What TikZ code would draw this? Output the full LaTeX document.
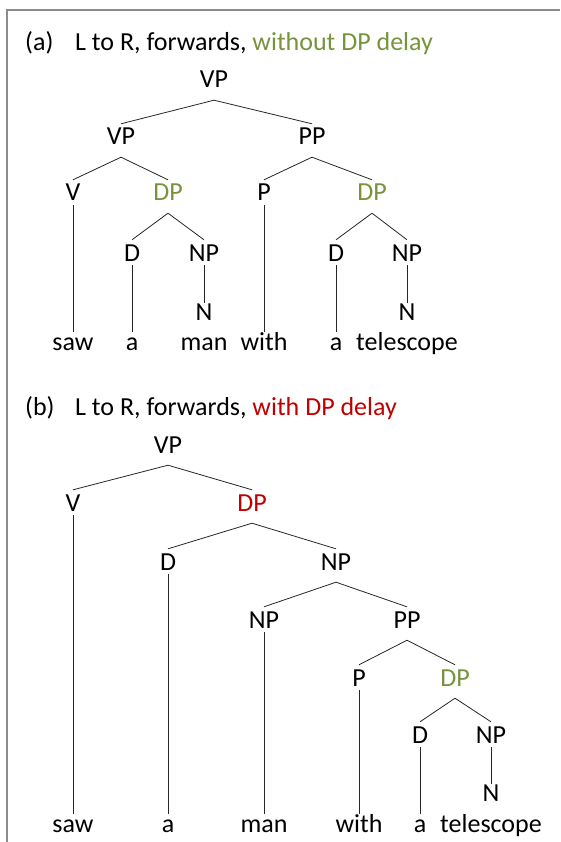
\documentclass[tikz,border=0pt]{standalone}
\usepackage{fontspec}
\setmainfont{Carlito}
\usetikzlibrary{positioning}
\definecolor{dpgreen}{HTML}{77933C}
\definecolor{dpred}{HTML}{C00000}
\definecolor{framegray}{HTML}{8C8C8C}

\begin{document}
\begin{tikzpicture}[x=1pt, y=-1pt,
    font=\fontsize{26}{30}\selectfont,
    cat/.style={anchor=base, inner sep=0pt, text height=17pt, text depth=0pt},
    word/.style={anchor=base, inner sep=0pt, text height=18pt, text depth=0pt},
    title/.style={anchor=base west, inner sep=0pt},
    branch/.style={black!85, line width=0.8pt}]
    \useasboundingbox (0,0) rectangle (560,842);

    % Frame
    \draw[framegray, line width=1.5pt] (7,842) -- (7,10) -- (560,10);

    % (a) without DP delay
    \node[title] (labA) at (25,51) {(a)};
    \node[title] (titA) at (75,51) {L to R, forwards, \textcolor{dpgreen}{without DP delay}};
    \node[cat] (vpA) at (214,88) {VP};
    \node[cat] (vpA1) at (121,145) {VP};
    \node[cat] (ppA) at (312,145) {PP};
    \node[cat] (vA) at (73,201) {V};
    \node[cat, dpgreen] (dpA1) at (168,201) {DP};
    \node[cat] (pA) at (264,201) {P};
    \node[cat, dpgreen] (dpA2) at (372,201) {DP};
    \node[cat] (dA1) at (132,261) {D};
    \node[cat] (npA1) at (204,261) {NP};
    \node[cat] (dA2) at (336,261) {D};
    \node[cat] (npA2) at (407,261) {NP};
    \node[cat] (nA1) at (204,320) {N};
    \node[cat] (nA2) at (407,320) {N};
    \node[word] (sawA) at (73,350) {saw};
    \node[word] (aA1) at (132,350) {a};
    \node[word] (manA) at (204,350) {man};
    \node[word] (withA) at (264,350) {with};
    \node[word] (aA2) at (336,350) {a};
    \node[word] (telA) at (407,350) {telescope};

    % (b) with DP delay
    \node[title] (labB) at (25,415) {(b)};
    \node[title] (titB) at (75,415) {L to R, forwards, \textcolor{dpred}{with DP delay}};
    \node[cat] (vpB) at (168,453) {VP};
    \node[cat] (vB) at (73,511) {V};
    \node[cat, dpred] (dpB1) at (252,511) {DP};
    \node[cat] (dB1) at (168,570) {D};
    \node[cat] (npB1) at (336,570) {NP};
    \node[cat] (npB2) at (264,628) {NP};
    \node[cat] (ppB) at (407,628) {PP};
    \node[cat] (pB) at (359,686) {P};
    \node[cat, dpgreen] (dpB2) at (455,686) {DP};
    \node[cat] (dB2) at (420,743) {D};
    \node[cat] (npB3) at (491,743) {NP};
    \node[cat] (nB) at (491,801) {N};
    \node[word] (sawB) at (73,832) {saw};
    \node[word] (aB1) at (168,832) {a};
    \node[word] (manB) at (264,832) {man};
    \node[word] (withB) at (359,832) {with};
    \node[word] (aB2) at (420,832) {a};
    \node[word] (telB) at (491,832) {telescope};

    % Branches
    \foreach \p/\c in {vpA/vpA1, vpA/ppA, vpA1/vA, vpA1/dpA1, ppA/pA, ppA/dpA2,
        dpA1/dA1, dpA1/npA1, dpA2/dA2, dpA2/npA2,
        vpB/vB, vpB/dpB1, dpB1/dB1, dpB1/npB1, npB1/npB2, npB1/ppB,
        ppB/pB, ppB/dpB2, dpB2/dB2, dpB2/npB3}
      \draw[branch] ([yshift=-12pt]\p.south) -- ([yshift=4pt]\c.north);

    % Stems down to the words
    \foreach \p/\c in {vA/sawA, dA1/aA1, npA1/nA1, pA/withA, dA2/aA2, npA2/nA2,
        vB/sawB, dB1/aB1, npB2/manB, pB/withB, dB2/aB2, npB3/nB}
      \draw[branch] ([yshift=-4pt]\p.south) -- (\c.north);
  \end{tikzpicture}
\end{document}
